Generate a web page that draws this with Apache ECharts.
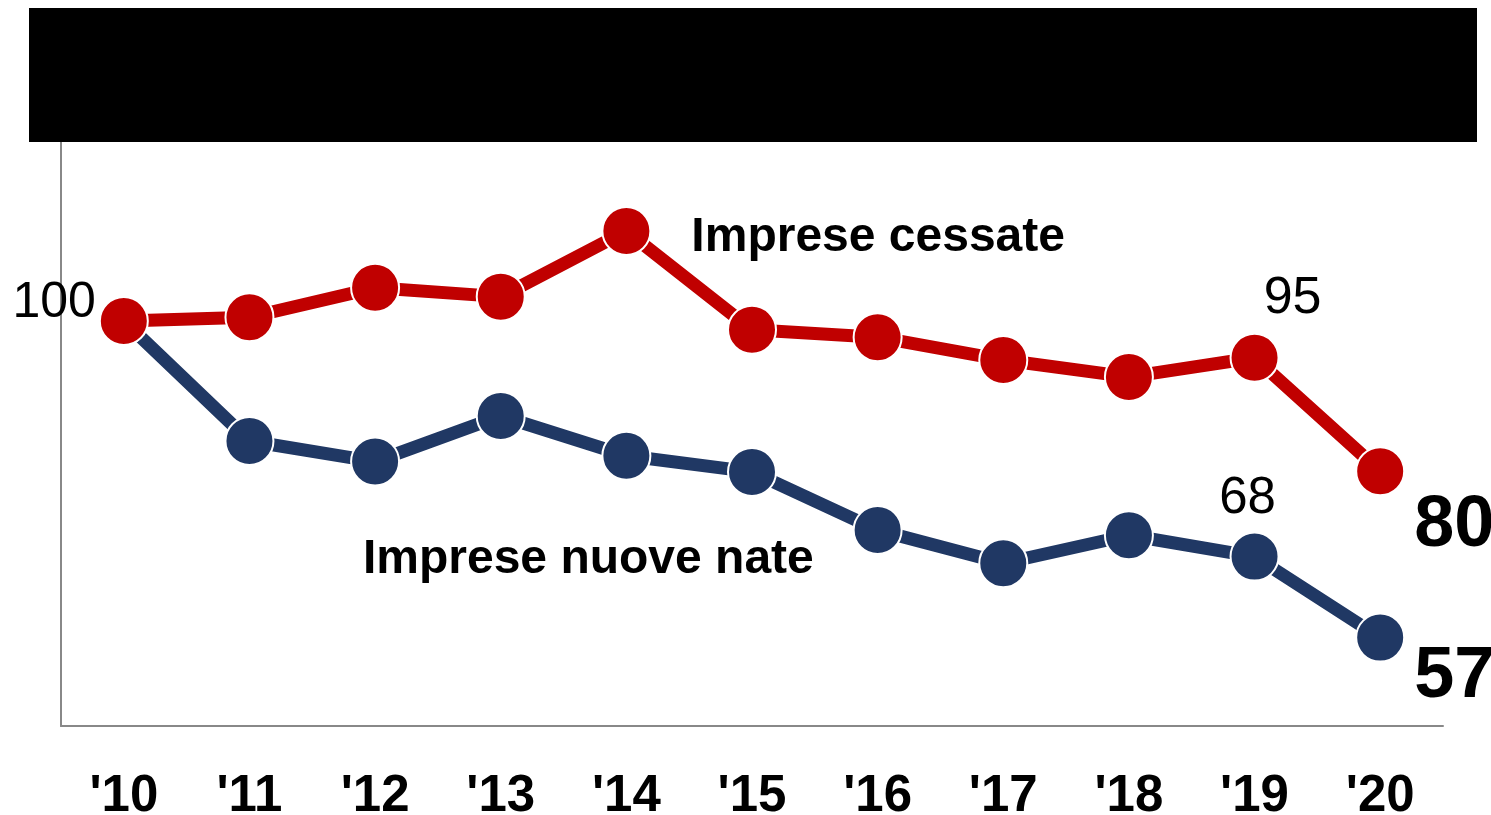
<!DOCTYPE html>
<html>
<head>
<meta charset="utf-8">
<script src="https://cdn.jsdelivr.net/npm/echarts@6/dist/echarts.min.js"></script>
<style>
html,body{margin:0;padding:0;background:#fff;}
#c{width:1491px;height:815px;}
</style>
</head>
<body>
<div id="c"></div>
<script>
const categories = ["'10","'11","'12","'13","'14","'15","'16","'17","'18","'19","'20"];
const cessate = [100, 100.5, 104.5, 103.3, 112.2, 98.8, 97.8, 94.7, 92.4, 95, 79.6];
const nuoveNate = [100, 83.7, 80.9, 87.1, 81.7, 79.5, 71.6, 67.1, 70.9, 68, 57];
const seriesNames = ["Imprese cessate", "Imprese nuove nate"];

const RED = '#C00000', BLUE = '#203864';
const FONT = '"Liberation Sans", Arial, sans-serif';

function item(v, label) { return label ? { value: v, label: label } : v; }

const redData = cessate.map((v, i) => {
  if (i === 0) return item(v, { show: true, position: 'left', distance: 3, offset: [0, -18], formatter: String(Math.round(v)), fontSize: 50, color: '#000', fontFamily: FONT });
  if (i === 4) return item(v, { show: true, position: 'right', distance: 0, offset: [40, 7], formatter: seriesNames[0], fontSize: 48, fontWeight: 'bold', color: '#000', fontFamily: FONT });
  if (i === 9) return item(v, { show: true, position: 'top', distance: 8, offset: [38, 0], formatter: String(Math.round(v)), fontSize: 52, color: '#000', fontFamily: FONT });
  if (i === 10) return item(v, { show: true, position: 'right', distance: 8, offset: [1, 55], formatter: String(Math.round(v)), fontSize: 72, fontWeight: 'bold', color: '#000', fontFamily: FONT });
  return v;
});
const blueData = nuoveNate.map((v, i) => {
  if (i === 4) return item(v, { show: true, position: 'bottom', distance: 0, offset: [-38, 55], formatter: seriesNames[1], fontSize: 48, fontWeight: 'bold', color: '#000', fontFamily: FONT });
  if (i === 9) return item(v, { show: true, position: 'top', distance: 7, offset: [-7, 0], formatter: String(Math.round(v)), fontSize: 51, color: '#000', fontFamily: FONT });
  if (i === 10) return item(v, { show: true, position: 'right', distance: 8, offset: [1, 40], formatter: String(Math.round(v)), fontSize: 72, fontWeight: 'bold', color: '#000', fontFamily: FONT });
  return v;
});

const chart = echarts.init(document.getElementById('c'), null, { renderer: 'canvas' });
chart.setOption({
  animation: false,
  backgroundColor: '#fff',
  grid: { left: 61, right: 48, top: 100, bottom: 89, containLabel: false, outerBoundsMode: 'none' },
  xAxis: {
    type: 'category',
    data: categories,
    boundaryGap: true,
    axisLine: { show: true, lineStyle: { color: '#888', width: 2 } },
    axisTick: { show: false },
    axisLabel: { margin: 45, fontSize: 51, fontWeight: 'bold', color: '#000', fontFamily: FONT }
  },
  yAxis: {
    type: 'value',
    min: 45, max: 130,
    splitLine: { show: false },
    axisLabel: { show: false },
    axisTick: { show: false },
    axisLine: { show: true, lineStyle: { color: '#888', width: 2 } }
  },
  series: [
    {
      name: seriesNames[0], type: 'line', data: redData,
      symbol: 'circle', symbolSize: 48,
      lineStyle: { color: RED, width: 13 },
      itemStyle: { color: RED, borderColor: '#fff', borderWidth: 2 },
      z: 3
    },
    {
      name: seriesNames[1], type: 'line', data: blueData,
      symbol: 'circle', symbolSize: 48,
      lineStyle: { color: BLUE, width: 13 },
      itemStyle: { color: BLUE, borderColor: '#fff', borderWidth: 2 },
      z: 2
    }
  ],
  graphic: [
    { type: 'rect', left: 29, top: 8, shape: { width: 1448, height: 134 }, style: { fill: '#000' }, z: 100 }
  ]
});
</script>
</body>
</html>
